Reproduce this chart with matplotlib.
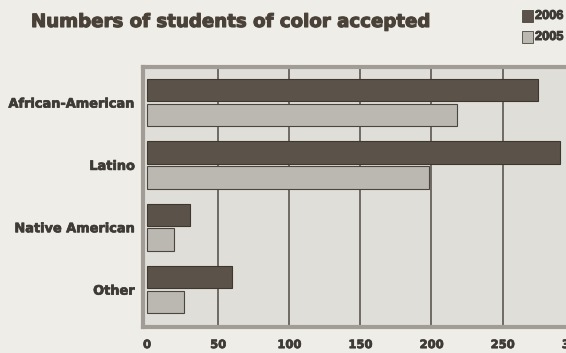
import matplotlib
matplotlib.use("Agg")
import matplotlib.pyplot as plt
import matplotlib.patheffects as pe
import numpy as np

categories = ["African-American", "Latino", "Native American", "Other"]
series_names = ["2006", "2005"]
values_2006 = [275, 290, 30, 60]
values_2005 = [218, 198, 19, 26]
xticks = [0, 50, 100, 150, 200, 250, 300]

txtcol = "#3e3a35"
fx = [pe.withStroke(linewidth=0.5, foreground=txtcol)]

fig = plt.figure(figsize=(5.66, 3.53), dpi=100)
fig.patch.set_facecolor("#efede8")

ax = fig.add_axes([143/566, 1-327/353, (578-143)/566, (327-67)/353])
ax.set_facecolor("#e0ded8")

y = np.arange(len(categories))
h = 0.36
c06 = "#5b5349"
c05 = "#bbb8b1"
ax.barh(y - 0.2, values_2006, height=h, color=c06, edgecolor="#3d3730", linewidth=0.8, zorder=3)
ax.barh(y + 0.2, values_2005, height=h, color=c05, edgecolor="#4a453f", linewidth=0.8, zorder=3)

ax.set_xlim(-2.8, 303)
ax.set_ylim(3.6, -0.57)
for xv in xticks[1:-1]:
    ax.axvline(xv, color="#6e6a63", linewidth=1.4, zorder=1)

ax.set_yticks(y)
ax.set_yticklabels(categories, fontsize=9.3, fontweight="bold", color=txtcol, family="DejaVu Sans")
ax.set_xticks(xticks)
ax.set_xticklabels([str(v) for v in xticks], fontsize=8.3, fontweight="bold", color=txtcol, family="DejaVu Sans")
ax.tick_params(axis="y", length=0, pad=6)
ax.tick_params(axis="x", length=0, pad=8)
for lab in ax.get_xticklabels() + ax.get_yticklabels():
    lab.set_path_effects(fx)
for s in ax.spines.values():
    s.set_color("#a19d96")
    s.set_linewidth(3)

fig.text(31/566, 1-22/353, "Numbers of students of color accepted", fontsize=13.1, fontweight="bold",
         color="#4a4238", family="DejaVu Sans", va="center", ha="left",
         path_effects=[pe.withStroke(linewidth=0.8, foreground="#4a4238")])

for i, (name, col) in enumerate(zip(series_names, [c06, c05])):
    yy = 1 - (16 + 21*i)/353
    fig.patches.append(plt.Rectangle((522/566, yy - 6/353), 11/566, 12/353, transform=fig.transFigure,
                                     facecolor=col, edgecolor="#4a453f", linewidth=0.6))
    fig.text(535/566, yy, name, fontsize=9.2, fontweight="bold", color=txtcol,
             family="Liberation Sans", va="center", ha="left",
             path_effects=[pe.withStroke(linewidth=0.7, foreground=txtcol)])

fig.savefig("out.png", dpi=100, facecolor=fig.get_facecolor())
